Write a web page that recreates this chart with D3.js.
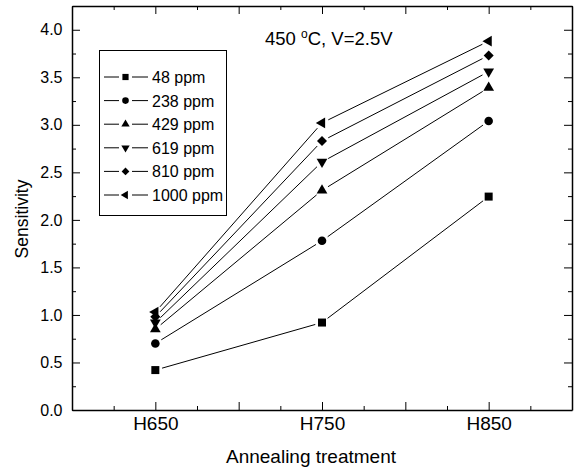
<!DOCTYPE html>
<html>
<head>
<meta charset="utf-8">
<script src="https://cdn.jsdelivr.net/npm/d3@7"></script>
<style>
  body { margin: 0; background: #fff; }
  text { font-family: "Liberation Sans", Arial, sans-serif; fill: #000; }
  .axis path, .axis line { stroke: #000; }
  .axis path { stroke-width: 1.5; }
</style>
</head>
<body>
<svg id="chart" width="574" height="472"></svg>
<script>
// data
const treatments = ['H650', 'H750', 'H850'];
const seriesNames = ['48 ppm', '238 ppm', '429 ppm', '619 ppm', '810 ppm', '1000 ppm'];
const s48   = [0.42, 0.92, 2.245];
const s238  = [0.70, 1.78, 3.04];
const s429  = [0.85, 2.31, 3.39];
const s619  = [0.92, 2.61, 3.56];
const s810  = [0.98, 2.83, 3.73];
const s1000 = [1.03, 3.02, 3.88];
const yTicks = [0, 0.5, 1, 1.5, 2, 2.5, 3, 3.5, 4];

const allSeries = [s48, s238, s429, s619, s810, s1000];

// marker shapes: symbol + rotation
const markers = [
  { type: d3.symbolSquare, size: 64, rot: 0 },
  { type: d3.symbolCircle, size: 58, rot: 0 },
  { type: d3.symbolTriangle, size: 50, rot: 0 },
  { type: d3.symbolTriangle, size: 50, rot: 180 },
  { type: d3.symbolSquare, size: 50, rot: 45 },
  { type: d3.symbolTriangle, size: 50, rot: -90 }
];

function makeChart() {
  let w = 574, h = 472;
  let left = 72, right = 572, top = 6, bottom = 410;

  let svg = d3.select('#chart').attr('width', w).attr('height', h);

  let xScale = d3.scaleLinear().domain([-0.5, 2.5]).range([left, right]);
  let yScale = d3.scaleLinear().domain([0, 4.25]).range([bottom, top]);

  let xMajor = d3.range(-0.5, 2.51, 0.5);
  let xMinor = d3.range(-0.25, 2.5, 0.5);
  let yMinor = d3.range(0.25, 4.25, 0.5);

  // lines between points with a little gap round the markers (Origin style)
  let gap = 7;
  allSeries.forEach((vals) => {
    for (let i = 0; i < vals.length - 1; i++) {
      let x1 = xScale(i), y1 = yScale(vals[i]);
      let x2 = xScale(i + 1), y2 = yScale(vals[i + 1]);
      let len = Math.hypot(x2 - x1, y2 - y1);
      let ux = (x2 - x1) / len, uy = (y2 - y1) / len;
      svg.append('line')
        .attr('x1', x1 + ux * gap).attr('y1', y1 + uy * gap)
        .attr('x2', x2 - ux * gap).attr('y2', y2 - uy * gap)
        .attr('stroke', '#000').attr('stroke-width', 1);
    }
  });

  // markers
  allSeries.forEach((vals, k) => {
    let m = markers[k];
    svg.selectAll(null)
      .data(vals)
      .enter()
      .append('path')
      .attr('d', d3.symbol().type(m.type).size(m.size))
      .attr('transform', (d, i) => `translate(${xScale(i)},${yScale(d)}) rotate(${m.rot})`)
      .attr('fill', '#000');
  });

  // AXES - ticks point inward, mirrored on top and right
  let xAxis = d3.axisBottom(xScale)
    .tickValues(xMajor)
    .tickSizeInner(-8).tickSizeOuter(0).tickPadding(6.5)
    .tickFormat((d) => Number.isInteger(d) ? treatments[d] : '');
  let gx = svg.append('g').attr('class', 'axis')
    .attr('transform', `translate(0,${bottom})`).call(xAxis);
  gx.selectAll('text').style('font-size', '19px');

  svg.append('g').attr('class', 'axis')
    .attr('transform', `translate(0,${bottom})`)
    .call(d3.axisBottom(xScale).tickValues(xMinor).tickSize(-4).tickFormat(''))
    .select('.domain').remove();

  svg.append('g').attr('class', 'axis')
    .attr('transform', `translate(0,${top})`)
    .call(d3.axisTop(xScale).tickValues(xMajor).tickSizeInner(-8).tickSizeOuter(0).tickFormat(''));
  svg.append('g').attr('class', 'axis')
    .attr('transform', `translate(0,${top})`)
    .call(d3.axisTop(xScale).tickValues(xMinor).tickSize(-4).tickFormat(''))
    .select('.domain').remove();

  let yAxis = d3.axisLeft(yScale)
    .tickValues(yTicks)
    .tickSizeInner(-8).tickSizeOuter(0).tickPadding(9.5)
    .tickFormat(d3.format('.1f'));
  let gy = svg.append('g').attr('class', 'axis')
    .attr('transform', `translate(${left},0)`).call(yAxis);
  gy.selectAll('text').style('font-size', '16px');

  svg.append('g').attr('class', 'axis')
    .attr('transform', `translate(${left},0)`)
    .call(d3.axisLeft(yScale).tickValues(yMinor).tickSize(-4).tickFormat(''))
    .select('.domain').remove();

  svg.append('g').attr('class', 'axis')
    .attr('transform', `translate(${right},0)`)
    .call(d3.axisRight(yScale).tickValues(yTicks).tickSizeInner(-8).tickSizeOuter(0).tickFormat(''));
  svg.append('g').attr('class', 'axis')
    .attr('transform', `translate(${right},0)`)
    .call(d3.axisRight(yScale).tickValues(yMinor).tickSize(-4).tickFormat(''))
    .select('.domain').remove();

  // axis titles
  svg.append('text')
    .attr('x', 311).attr('y', 463)
    .style('text-anchor', 'middle').style('font-size', '19px')
    .text('Annealing treatment');

  svg.append('text')
    .attr('transform', `translate(28,219) rotate(-90)`)
    .style('text-anchor', 'middle').style('font-size', '17.5px')
    .text('Sensitivity');

  // annotation
  let ann = svg.append('text')
    .attr('x', 265).attr('y', 45)
    .style('font-size', '18.5px');
  ann.append('tspan').text('450 ');
  ann.append('tspan').attr('dy', -7).style('font-size', '12px').text('o');
  ann.append('tspan').attr('dy', 7).text('C, V=2.5V');

  // legend
  let lg = svg.append('g');
  lg.append('rect')
    .attr('x', 99.5).attr('y', 50.5).attr('width', 127).attr('height', 165)
    .attr('fill', '#fff').attr('stroke', '#000').attr('stroke-width', 1);

  seriesNames.forEach((name, k) => {
    let yy = 77 + k * 23.6;
    let m = markers[k];
    lg.append('line').attr('x1', 104).attr('x2', 119).attr('y1', yy).attr('y2', yy)
      .attr('stroke', '#000');
    lg.append('line').attr('x1', 132).attr('x2', 148).attr('y1', yy).attr('y2', yy)
      .attr('stroke', '#000');
    lg.append('path')
      .attr('d', d3.symbol().type(m.type).size(m.size * 0.6))
      .attr('transform', `translate(125.5,${yy}) rotate(${m.rot})`)
      .attr('fill', '#000');
    lg.append('text')
      .attr('x', 152).attr('y', yy + 6)
      .style('font-size', '16px')
      .text(name);
  });
}

makeChart();
</script>
</body>
</html>
